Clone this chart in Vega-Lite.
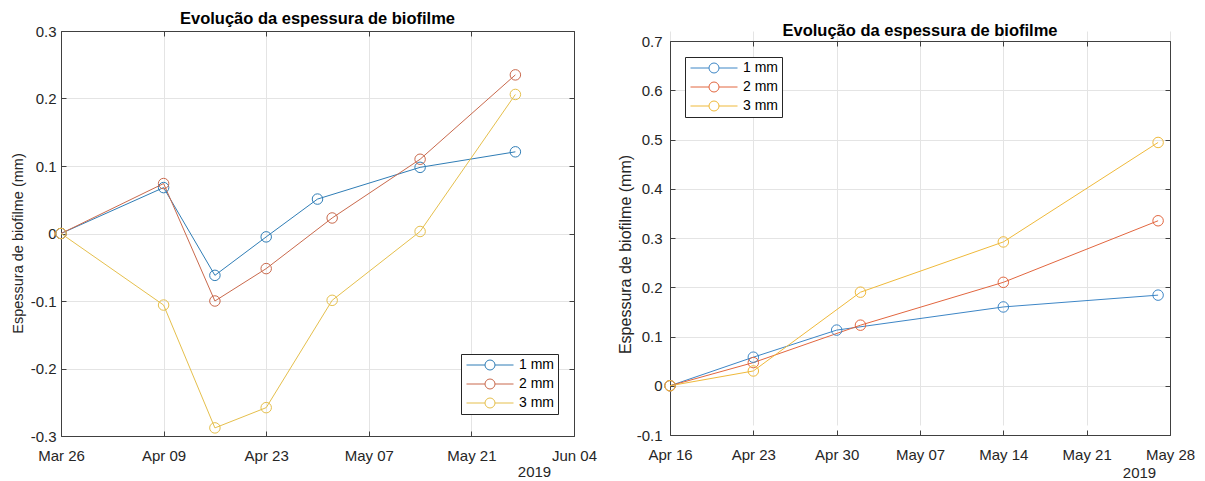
{
  "$schema": "https://vega.github.io/schema/vega-lite/v6.json",
  "background": "white",
  "padding": {"left": 10, "top": 10, "right": 5, "bottom": 0},
  "datasets": {
    "left": [
      {"date": "2019-03-26", "value": 0, "series": "1 mm"},
      {"date": "2019-04-09", "value": 0.068, "series": "1 mm"},
      {"date": "2019-04-16", "value": -0.062, "series": "1 mm"},
      {"date": "2019-04-23", "value": -0.005, "series": "1 mm"},
      {"date": "2019-04-30", "value": 0.051, "series": "1 mm"},
      {"date": "2019-05-14", "value": 0.098, "series": "1 mm"},
      {"date": "2019-05-27", "value": 0.121, "series": "1 mm"},
      {"date": "2019-03-26", "value": 0, "series": "2 mm"},
      {"date": "2019-04-09", "value": 0.074, "series": "2 mm"},
      {"date": "2019-04-16", "value": -0.1, "series": "2 mm"},
      {"date": "2019-04-23", "value": -0.052, "series": "2 mm"},
      {"date": "2019-05-02", "value": 0.023, "series": "2 mm"},
      {"date": "2019-05-14", "value": 0.11, "series": "2 mm"},
      {"date": "2019-05-27", "value": 0.235, "series": "2 mm"},
      {"date": "2019-03-26", "value": 0, "series": "3 mm"},
      {"date": "2019-04-09", "value": -0.106, "series": "3 mm"},
      {"date": "2019-04-16", "value": -0.288, "series": "3 mm"},
      {"date": "2019-04-23", "value": -0.258, "series": "3 mm"},
      {"date": "2019-05-02", "value": -0.099, "series": "3 mm"},
      {"date": "2019-05-14", "value": 0.003, "series": "3 mm"},
      {"date": "2019-05-27", "value": 0.206, "series": "3 mm"}
    ],
    "right": [
      {"date": "2019-04-16", "value": 0, "series": "1 mm"},
      {"date": "2019-04-23", "value": 0.058, "series": "1 mm"},
      {"date": "2019-04-30", "value": 0.113, "series": "1 mm"},
      {"date": "2019-05-14", "value": 0.16, "series": "1 mm"},
      {"date": "2019-05-27", "value": 0.184, "series": "1 mm"},
      {"date": "2019-04-16", "value": 0, "series": "2 mm"},
      {"date": "2019-04-23", "value": 0.047, "series": "2 mm"},
      {"date": "2019-05-02", "value": 0.123, "series": "2 mm"},
      {"date": "2019-05-14", "value": 0.21, "series": "2 mm"},
      {"date": "2019-05-27", "value": 0.335, "series": "2 mm"},
      {"date": "2019-04-16", "value": 0, "series": "3 mm"},
      {"date": "2019-04-23", "value": 0.03, "series": "3 mm"},
      {"date": "2019-05-02", "value": 0.19, "series": "3 mm"},
      {"date": "2019-05-14", "value": 0.292, "series": "3 mm"},
      {"date": "2019-05-27", "value": 0.494, "series": "3 mm"}
    ]
  },
  "config": {
    "font": "Liberation Sans",
    "view": {"stroke": null},
    "concat": {"spacing": 20},
    "axis": {
      "gridColor": "#e4e4e4",
      "gridWidth": 1,
      "domainColor": "#404040",
      "domainWidth": 1,
      "tickColor": "#404040",
      "tickSize": -5,
      "labelFontSize": 15,
      "labelColor": "#262626",
      "labelFont": "Liberation Sans",
      "titleFontSize": 14.5,
      "titleFontWeight": "normal",
      "titleColor": "#262626",
      "titleFont": "Liberation Sans"
    },
    "title": {"fontSize": 16.5, "fontWeight": "bold", "color": "#000000", "font": "Liberation Sans", "frame": "group"},
    "legend": {
      "orient": "none",
      "title": null,
      "padding": 4,
      "strokeColor": "#262626",
      "fillColor": "white",
      "symbolType": "M-4.7,0L-1,0M1,0L4.7,0M1,0A1,1,0,1,1,-1,0A1,1,0,1,1,1,0",
      "symbolSize": 100,
      "symbolStrokeWidth": 1,
      "symbolFillColor": "transparent",
      "symbolOffset": 18,
      "labelOffset": 22,
      "labelFontSize": 14,
      "labelColor": "#000000",
      "labelFont": "Liberation Sans",
      "rowPadding": 5
    }
  },
  "resolve": {"scale": {"color": "independent"}, "legend": {"color": "independent"}},
  "hconcat": [
    {
      "width": 513,
      "height": 405,
      "title": {"text": "Evolução da espessura de biofilme", "offset": -3},
      "data": {"name": "left"},
      "resolve": {"axis": {"x": "independent", "y": "independent"}},
      "layer": [
        {
          "mark": {"type": "line", "strokeWidth": 1},
          "encoding": {
            "x": {
              "field": "date", "type": "temporal",
              "scale": {"type": "utc", "domain": [{"year": 2019, "month": 3, "date": 26, "utc": true}, {"year": 2019, "month": 6, "date": 4, "utc": true}]},
              "axis": {
                "orient": "bottom", "grid": true, "labelFlush": false, "labelPadding": 17,
                "labelExpr": "['Jan','Feb','Mar','Apr','May','Jun','Jul','Aug','Sep','Oct','Nov','Dec'][utcmonth(datum.value)] + ' ' + (utcdate(datum.value) < 10 ? '0' : '') + utcdate(datum.value)",
                "values": [{"year": 2019, "month": 3, "date": 26, "utc": true}, {"year": 2019, "month": 4, "date": 9, "utc": true}, {"year": 2019, "month": 4, "date": 23, "utc": true}, {"year": 2019, "month": 5, "date": 7, "utc": true}, {"year": 2019, "month": 5, "date": 21, "utc": true}, {"year": 2019, "month": 6, "date": 4, "utc": true}],
                "title": "2019", "titleFontSize": 15, "titleX": 473, "titleY": 35, "titleAlign": "center", "titleBaseline": "middle", "titleAnchor": null
              }
            },
            "y": {
              "field": "value", "type": "quantitative",
              "scale": {"domain": [-0.3, 0.3], "nice": false, "zero": false},
              "axis": {
                "orient": "left", "grid": true, "values": [-0.3, -0.2, -0.1, 0, 0.1, 0.2, 0.3],
                "labelExpr": "replace(format(datum.value, '~g'), '\u2212', '-')",
                "labelPadding": 10, "title": "Espessura de biofilme (mm)", "titlePadding": 5, "titleY": 212
              }
            },
            "color": {
              "field": "series", "type": "nominal",
              "scale": {"domain": ["1 mm", "2 mm", "3 mm"], "range": ["#2f7db6", "#c9694c", "#e5bf4c"]},
              "legend": {"legendX": 400, "legendY": 323}
            }
          }
        },
        {
          "mark": {"type": "point", "shape": "circle", "filled": false, "size": 110, "strokeWidth": 1, "opacity": 1},
          "encoding": {
            "x": {
              "field": "date", "type": "temporal",
              "axis": {
                "orient": "top", "grid": false, "labels": false, "title": null, "domain": true,
                "values": [{"year": 2019, "month": 3, "date": 26, "utc": true}, {"year": 2019, "month": 4, "date": 9, "utc": true}, {"year": 2019, "month": 4, "date": 23, "utc": true}, {"year": 2019, "month": 5, "date": 7, "utc": true}, {"year": 2019, "month": 5, "date": 21, "utc": true}, {"year": 2019, "month": 6, "date": 4, "utc": true}]
              }
            },
            "y": {
              "field": "value", "type": "quantitative",
              "axis": {"orient": "right", "grid": false, "labels": false, "title": null, "domain": true, "values": [-0.3, -0.2, -0.1, 0, 0.1, 0.2, 0.3]}
            },
            "color": {"field": "series", "type": "nominal"}
          }
        }
      ]
    },
    {
      "width": 500,
      "height": 404,
      "title": {"text": "Evolução da espessura de biofilme", "offset": -8},
      "data": {"name": "right"},
      "resolve": {"axis": {"x": "independent", "y": "independent"}},
      "layer": [
        {
          "mark": {"type": "line", "strokeWidth": 1},
          "encoding": {
            "x": {
              "field": "date", "type": "temporal",
              "scale": {"type": "utc", "domain": [{"year": 2019, "month": 4, "date": 16, "utc": true}, {"year": 2019, "month": 5, "date": 28, "utc": true}]},
              "axis": {
                "orient": "bottom", "grid": true, "labelFlush": false, "labelPadding": 17,
                "labelExpr": "['Jan','Feb','Mar','Apr','May','Jun','Jul','Aug','Sep','Oct','Nov','Dec'][utcmonth(datum.value)] + ' ' + (utcdate(datum.value) < 10 ? '0' : '') + utcdate(datum.value)",
                "values": [{"year": 2019, "month": 4, "date": 16, "utc": true}, {"year": 2019, "month": 4, "date": 23, "utc": true}, {"year": 2019, "month": 4, "date": 30, "utc": true}, {"year": 2019, "month": 5, "date": 7, "utc": true}, {"year": 2019, "month": 5, "date": 14, "utc": true}, {"year": 2019, "month": 5, "date": 21, "utc": true}, {"year": 2019, "month": 5, "date": 28, "utc": true}],
                "title": "2019", "titleFontSize": 15, "titleX": 469, "titleY": 37, "titleAlign": "center", "titleBaseline": "middle", "titleAnchor": null
              }
            },
            "y": {
              "field": "value", "type": "quantitative",
              "scale": {"domain": [-0.1, 0.7], "nice": false, "zero": false, "range": [404, 10]},
              "axis": {
                "orient": "left", "grid": true, "values": [-0.1, 0, 0.1, 0.2, 0.3, 0.4, 0.5, 0.6, 0.7],
                "labelExpr": "replace(format(datum.value, '~g'), '\u2212', '-')",
                "labelPadding": 13, "title": "Espessura de biofilme (mm)", "titleFontSize": 16, "titlePadding": 3, "titleY": 223
              }
            },
            "color": {
              "field": "series", "type": "nominal",
              "scale": {"domain": ["1 mm", "2 mm", "3 mm"], "range": ["#3d86c6", "#e2663f", "#efb93a"]},
              "legend": {"legendX": 15, "legendY": 26}
            }
          }
        },
        {
          "mark": {"type": "point", "shape": "circle", "filled": false, "size": 110, "strokeWidth": 1, "opacity": 1},
          "encoding": {
            "x": {
              "field": "date", "type": "temporal",
              "axis": {
                "orient": "top", "offset": -10, "grid": false, "labels": false, "title": null, "domain": true,
                "values": [{"year": 2019, "month": 4, "date": 16, "utc": true}, {"year": 2019, "month": 4, "date": 23, "utc": true}, {"year": 2019, "month": 4, "date": 30, "utc": true}, {"year": 2019, "month": 5, "date": 7, "utc": true}, {"year": 2019, "month": 5, "date": 14, "utc": true}, {"year": 2019, "month": 5, "date": 21, "utc": true}, {"year": 2019, "month": 5, "date": 28, "utc": true}]
              }
            },
            "y": {
              "field": "value", "type": "quantitative",
              "axis": {"orient": "right", "grid": false, "labels": false, "title": null, "domain": true, "values": [-0.1, 0, 0.1, 0.2, 0.3, 0.4, 0.5, 0.6, 0.7]}
            },
            "color": {"field": "series", "type": "nominal"}
          }
        }
      ]
    }
  ]
}
